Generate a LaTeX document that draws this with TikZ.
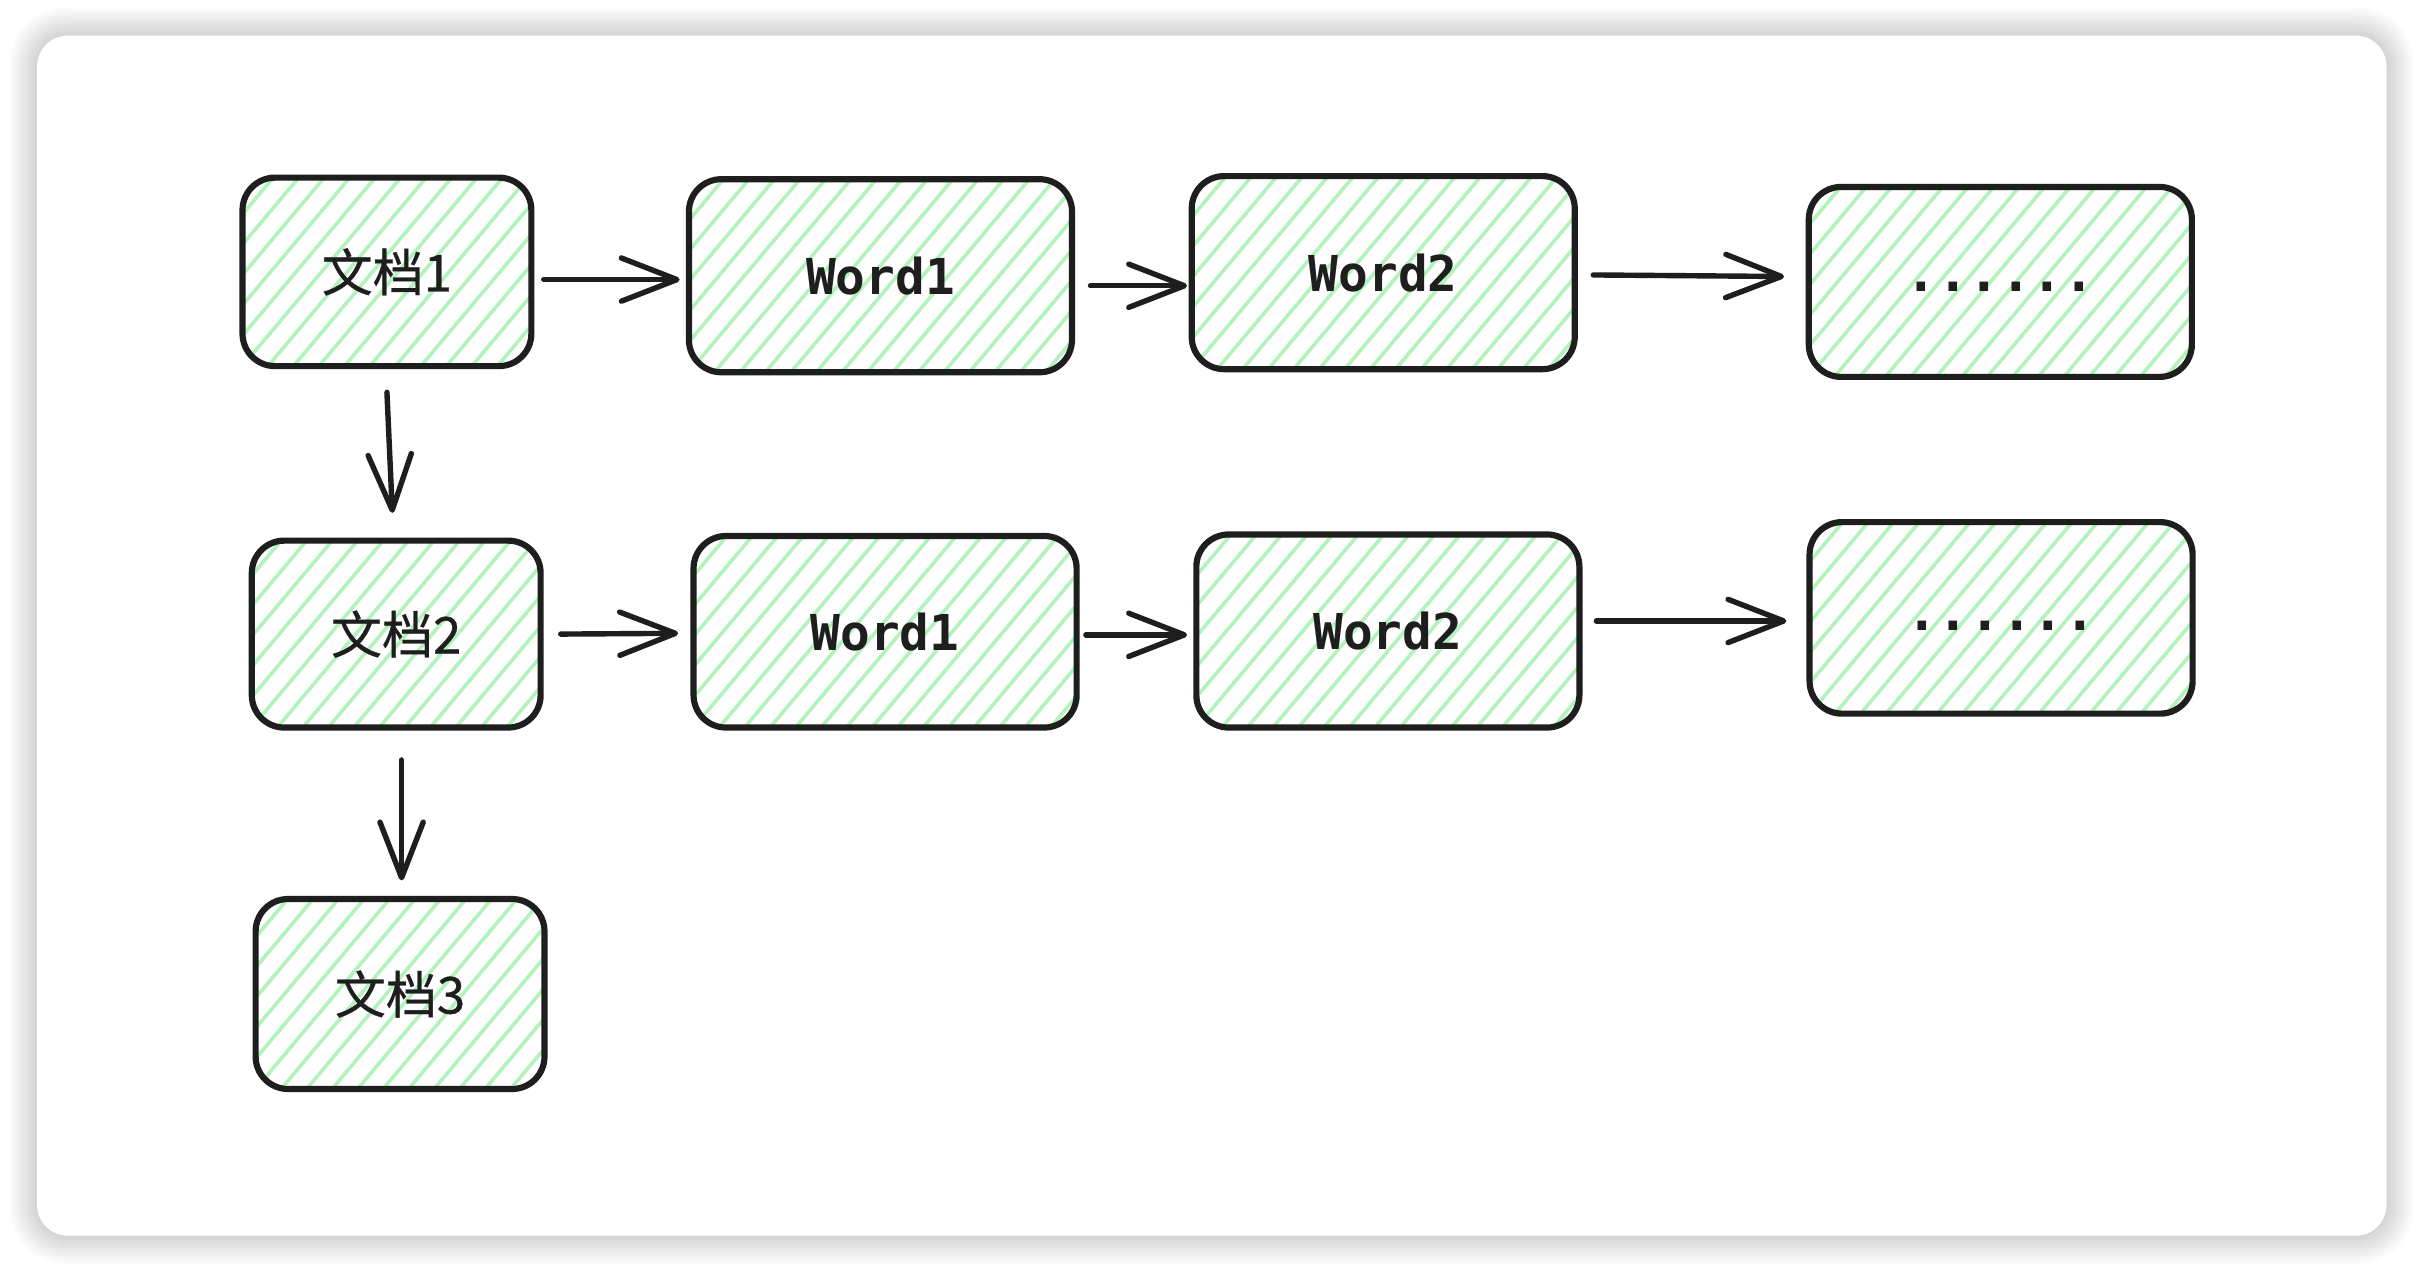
\documentclass[tikz,border=0pt]{standalone}
\usepackage{fontspec}
\usetikzlibrary{arrows.meta}
\newfontfamily\cjkfont{Noto Sans CJK SC}[FakeBold=0.6]
\newfontfamily\codefont{DejaVu Sans Mono}
\definecolor{ink}{HTML}{1E1E1E}
\definecolor{hatchgreen}{HTML}{B2F2BB}
\newcommand{\ellipsisdots}[1]{\raisebox{#1}[0pt][0pt]{\fontsize{34}{38}\selectfont......}}
\tikzset{
  hatchbox/.style={draw=ink, line width=4pt, rounded corners=21pt,
    inner sep=0pt, text=ink, minimum width=#1,
    path picture={
      \foreach \k in {-9,...,17}
        \draw[hatchgreen, line width=2.3pt]
          ([xshift=\k*16.5pt]path picture bounding box.south west) -- ++(50:320pt);
    }},
  doc/.style={hatchbox=187pt, font=\cjkfont\fontsize{33}{38}\selectfont},
  wordbox/.style={hatchbox=248pt, font=\codefont\bfseries\fontsize{32}{38}\selectfont},
  arr/.style={draw=ink, line width=3.5pt, line cap=round,
    -{Straight Barb[length=36pt, width=28pt, line width=3.5pt, round]}},
}
\begin{document}
\begin{tikzpicture}[x=1pt, y=-1pt]
  \useasboundingbox (0,0) rectangle (1568,823);
  % soft shadow round the card
  \foreach \i in {1,...,14}
    \fill[black, opacity=0.011, rounded corners=20pt+\i*1.2pt]
      (24-\i*1.3, 23-\i*1.3) rectangle (1545+\i*1.3, 800+\i*1.3);
  \fill[white, rounded corners=20pt] (24,23) rectangle (1545,800);

  % first row
  \node[doc, minimum height=122pt] (d1) at (250.5,176) {文档1};
  \node[wordbox, minimum height=125pt] (w11) at (570,178.5) {Word1};
  \node[wordbox, minimum height=125pt] (w12) at (895.5,176.5) {Word2};
  \node[wordbox, minimum height=123pt] (e1) at (1295,182.5) {\ellipsisdots{-6pt}};

  % second row
  \node[doc, minimum height=121pt] (d2) at (256.5,410.5) {文档2};
  \node[wordbox, minimum height=124pt] (w21) at (573,409) {Word1};
  \node[wordbox, minimum height=125pt] (w22) at (898.5,408.5) {Word2};
  \node[wordbox, minimum height=124pt] (e2) at (1295.5,400) {\ellipsisdots{-8pt}};

  % third row
  \node[doc, minimum height=123pt] (d3) at (259,643.5) {文档3};

  % connectors
  \draw[arr] ([xshift=6pt,yshift=-5pt]d1.east) -- ([xshift=-4pt,yshift=-2.5pt]w11.west);
  \draw[arr] ([xshift=10pt,yshift=-6.5pt]w11.east) -- ([xshift=-1pt,yshift=-8.5pt]w12.west);
  \draw[arr] ([xshift=10pt,yshift=-1.5pt]w12.east) -- ([xshift=-14pt,yshift=3.5pt]e1.west);
  \draw[arr] ([yshift=-15pt]d1.south) -- ([xshift=-2.5pt,yshift=16pt]d2.north);
  \draw[arr] ([xshift=11pt]d2.east) -- ([xshift=-8pt,yshift=-1pt]w21.west);
  \draw[arr] ([xshift=4pt,yshift=-2pt]w21.east) -- ([xshift=-4pt,yshift=-2.5pt]w22.west);
  \draw[arr] ([xshift=9pt,yshift=6.5pt]w22.east) -- ([xshift=-13pt,yshift=-2pt]e2.west);
  \draw[arr] ([xshift=3.5pt,yshift=-19pt]d2.south) -- ([xshift=1pt,yshift=10pt]d3.north);
\end{tikzpicture}
\end{document}
